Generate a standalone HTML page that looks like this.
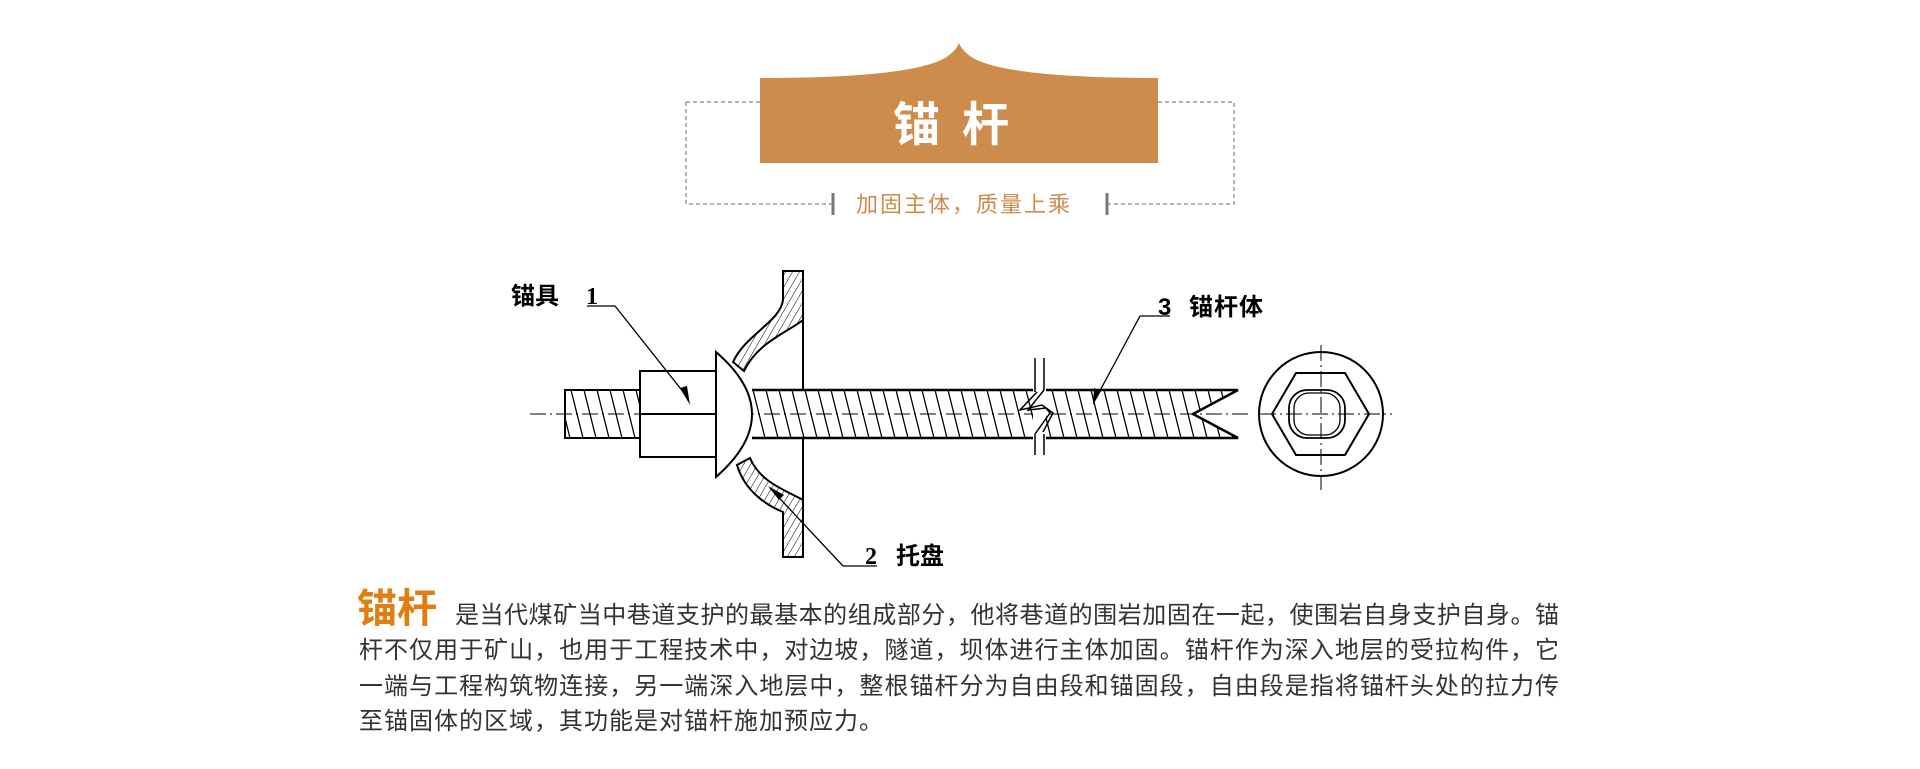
<!DOCTYPE html>
<html><head><meta charset="utf-8"><style>
html,body{margin:0;padding:0;background:#fff;}
body{width:1920px;height:769px;overflow:hidden;position:relative;font-family:"Liberation Sans","Noto Sans CJK SC",sans-serif;}
.ln{position:absolute;left:359px;width:1200px;font-size:24px;color:#333;text-align:justify;text-align-last:justify;white-space:nowrap;line-height:30px;}
</style></head><body>
<svg width="1920" height="769" viewBox="0 0 1920 769" style="position:absolute;left:0;top:0" font-family="Liberation Sans, Noto Sans CJK SC, sans-serif">
<defs>
<pattern id="h" width="6" height="6" patternUnits="userSpaceOnUse" patternTransform="rotate(30)">
<line x1="0" y1="0" x2="0" y2="6" stroke="#000" stroke-width="1"/></pattern>
<pattern id="t" width="13" height="48" patternUnits="userSpaceOnUse" x="0" y="390">
<line x1="-1" y1="0" x2="11" y2="48" stroke="#000" stroke-width="1.3"/>
<line x1="12" y1="0" x2="24" y2="48" stroke="#000" stroke-width="1.3"/>
<line x1="-14" y1="0" x2="-2" y2="48" stroke="#000" stroke-width="1.3"/></pattern>
</defs>
<!-- title -->
<path d="M686,102 H760 M1158,102 H1234 V204 H1107 M833,204 H686 V102" fill="none" stroke="#999" stroke-width="1.5" stroke-dasharray="4,3"/>
<line x1="833" y1="193" x2="833" y2="215" stroke="#777" stroke-width="3"/>
<line x1="1107" y1="193" x2="1107" y2="215" stroke="#777" stroke-width="3"/>
<path d="M760,163 V78 Q910,78 945,58 Q956,51 959,43 Q962,51 973,58 Q1008,78 1158,78 V163 Z" fill="#cd8b4c"/>
<text x="962" y="141" text-anchor="middle" font-size="47" font-weight="bold" fill="#fff" letter-spacing="22">锚杆</text>
<text x="964" y="212" text-anchor="middle" font-size="22" fill="#cd8b4c" letter-spacing="2">加固主体，质量上乘</text>
<!-- diagram -->
<g stroke="#000" fill="none" stroke-width="2">
<line x1="530" y1="414" x2="1250" y2="414" stroke-width="1" stroke-dasharray="16,4,2,4"/>
<rect x="565" y="390" width="75" height="48" fill="url(#t)"/>
<polygon points="752,390 1238,390 1193,414 1238,438 752,438" fill="url(#t)" stroke="none"/>
<path d="M752,390 H1238 L1193,414 L1238,438 H752" stroke-width="2.5"/>
<rect x="1033" y="388" width="13" height="52" fill="#fff" stroke="none"/>
<path d="M1035,358 V392 M1035,434 V455 M1044,358 V390 M1044,434 V455" stroke-width="1.5"/>
<path d="M1037,392 L1020,410 L1042,405 L1053,413 L1043,432" stroke-width="1.5"/>
<path d="M1044,390 L1028,410 L1046,408 L1050,413 L1035,434" stroke-width="1.5"/>
<rect x="640" y="371" width="76" height="86" fill="#fff"/>
<line x1="640" y1="414" x2="716" y2="414"/>
<path d="M716,352 Q788,414 716,477 Z" fill="#fff"/>
<line x1="803" y1="271" x2="803" y2="390"/>
<line x1="803" y1="438" x2="803" y2="557"/>
<path d="M783,271 H803 V320 C788,332 758,342 744,371 L733,362 C746,334 780,322 783,300 Z" fill="url(#h)"/>
<path d="M737,465 L750,458 C760,482 785,490 803,500 V557 H783 V512 C768,506 745,492 737,465 Z" fill="url(#h)"/>
<!-- leaders -->
<path d="M587,306 H615 L688,398" stroke-width="1.3"/>
<path d="M843,566 H877" stroke-width="1.3"/>
<path d="M843,566 L770,488" stroke-width="1.3"/>
<path d="M1140,316 H1170 M1140,316 L1095,400" stroke-width="1.3"/>
<!-- end view -->
<circle cx="1321" cy="414" r="62"/>
<polygon points="1296,373 1345,373 1369,414 1345,455 1296,455 1272,414"/>
<rect x="1289" y="390" width="56" height="48" rx="18" stroke-width="1.8"/>
<rect x="1294" y="393" width="46" height="42" rx="15" stroke-width="1.3"/>
<line x1="1321" y1="345" x2="1321" y2="490" stroke-width="1" stroke-dasharray="16,4,2,4"/>
<line x1="1260" y1="414" x2="1392" y2="414" stroke-width="1" stroke-dasharray="16,4,2,4"/>
</g>
<polygon points="690,405 680,388 687,386" fill="#000"/>
<polygon points="768,486 784,495 779,500" fill="#000"/>
<polygon points="1093,405 1094,388 1101,391" fill="#000"/>
<g font-size="24" fill="#000">
<text x="511" y="304" font-weight="bold">锚具</text>
<text x="586" y="304" font-family="Liberation Serif, serif" font-weight="bold">1</text>
<text x="1158" y="315" font-weight="bold">3</text>
<text x="1189" y="315" font-weight="bold" letter-spacing="1">锚杆体</text>
<text x="865" y="564" font-family="Liberation Serif, serif" font-weight="bold">2</text>
<text x="896" y="564" font-weight="bold">托盘</text>
</g>
<text x="357" y="622" font-size="40" font-weight="bold" fill="#e07f10">锚杆</text>
</svg>
<div class="ln" style="left:455px;width:1104px;top:601px;">是当代煤矿当中巷道支护的最基本的组成部分，他将巷道的围岩加固在一起，使围岩自身支护自身。锚</div>
<div class="ln" style="top:636px;">杆不仅用于矿山，也用于工程技术中，对边坡，隧道，坝体进行主体加固。锚杆作为深入地层的受拉构件，它</div>
<div class="ln" style="top:672px;">一端与工程构筑物连接，另一端深入地层中，整根锚杆分为自由段和锚固段，自由段是指将锚杆头处的拉力传</div>
<div class="ln" style="top:707px;text-align-last:left;letter-spacing:1px;">至锚固体的区域，其功能是对锚杆施加预应力。</div>
</body></html>
